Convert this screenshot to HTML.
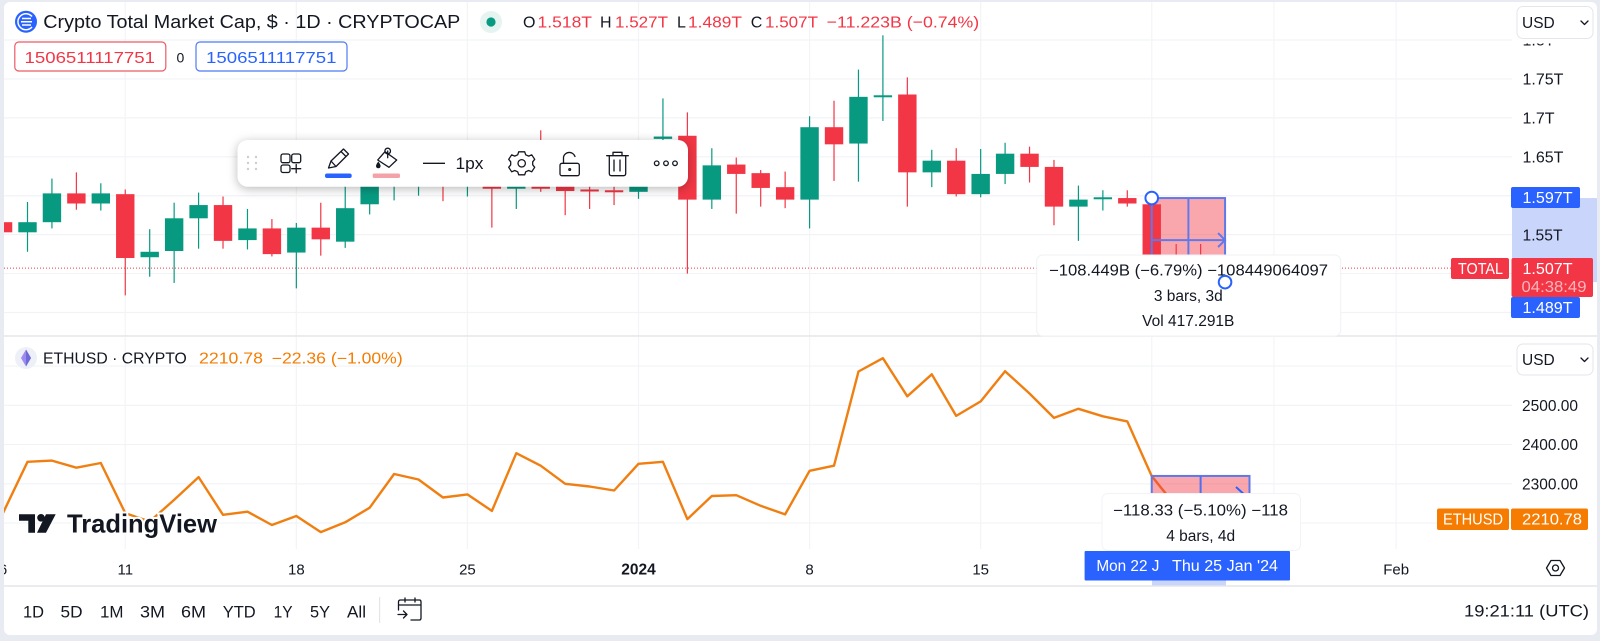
<!DOCTYPE html>
<html lang="en">
<head>
<meta charset="utf-8">
<title>Crypto Total Market Cap and ETHUSD</title>
<style>
html,body{margin:0;padding:0;background:#e9ebf3;width:1600px;height:641px;overflow:hidden}
svg{display:block;font-family:"Liberation Sans",sans-serif}
text{fill:#131722;font-size:15.5px}
.red{fill:#f23645}.org{fill:#f57c00}.wht{fill:#fff}.blu{fill:#2962ff}
.ic{fill:none;stroke:#131722;stroke-width:1.3;stroke-linecap:round;stroke-linejoin:round}
</style>
</head>
<body>
<svg id="chart" xmlns="http://www.w3.org/2000/svg" width="1600" height="641" viewBox="0 0 1600 641">
<defs>
<clipPath id="plot-clip"><rect x="4" y="2" width="1508" height="334"/></clipPath>
<clipPath id="plot2-clip"><rect x="4" y="337" width="1508" height="212"/></clipPath>
<clipPath id="axis-top-clip"><rect x="1512" y="43.500" width="88" height="300"/></clipPath>
<clipPath id="time-clip"><rect x="4" y="552" width="1596" height="34"/></clipPath>
</defs>
<rect x="4" y="2" width="1593" height="633" rx="6" fill="#fff"/>

<g id="grid"></g>
<line id="last-line" x1="4" x2="1451" stroke="#f23645" stroke-width="1" stroke-dasharray="1 2"/>
<g id="candles" clip-path="url(#plot-clip)"></g>

<g>
<rect id="box1" fill="#f23645" fill-opacity=".44" stroke="#5f79ea" stroke-width="2"/>
<line id="box1-mid" stroke="#5f79ea" stroke-width="2"/>
<path id="box1-arrow" fill="none" stroke="#5f79ea" stroke-width="2"/>
</g>

<line x1="4" x2="1597" y1="336" y2="336" stroke="#e3e5ec" stroke-width="1.500"/>

<path id="eth-line" clip-path="url(#plot2-clip)" fill="none" stroke="#f07f12" stroke-width="2.400" stroke-linejoin="round"/>

<g>
<rect id="box2" fill="#f23645" fill-opacity=".44" stroke="#5f79ea" stroke-width="2"/>
<line id="box2-mid" stroke="#4f6ff0" stroke-width="2"/>
<line x1="1236" y1="487" x2="1247" y2="497" stroke="#2962ff" stroke-width="2"/>
</g>

<g>
<path d="M19 514.300H35V532.700H28.300V520.700H19Z" fill="#131722"/>
<circle cx="41" cy="517.800" r="3.800" fill="#131722"/>
<path d="M46 514.300H55.700L46 532.700H37Z" fill="#131722"/>
<text x="67" y="532.500" textLength="150" style="font-size:26px;font-weight:700;paint-order:stroke;stroke:#fff;stroke-width:4px">TradingView</text>
</g>

<g>
<circle cx="26" cy="21.700" r="11" fill="#2962ff"/>
<path d="M32 16.500A8 8 0 1 0 32 27M22 18.500H31M21 21.700H32M22 25H31" fill="none" stroke="#fff" stroke-width="1.500"/>
<text x="43.300" y="28" textLength="417" style="font-size:18.500px">Crypto Total Market Cap, $ · 1D · CRYPTOCAP</text>
<circle cx="491" cy="22" r="11" fill="#e5f4f0"/>
<circle cx="491" cy="22" r="4.600" fill="#089981"/>
<text x="523" y="27.500" style="font-size:16px">O</text>
<text class="red" x="537.500" y="27.500" textLength="54.500" style="font-size:16px">1.518T</text>
<text x="600" y="27.500" style="font-size:16px">H</text>
<text class="red" x="615" y="27.500" textLength="53" style="font-size:16px">1.527T</text>
<text x="677" y="27.500" style="font-size:16px">L</text>
<text class="red" x="688" y="27.500" textLength="54" style="font-size:16px">1.489T</text>
<text x="750.700" y="27.500" style="font-size:16px">C</text>
<text class="red" x="765" y="27.500" textLength="53" style="font-size:16px">1.507T</text>
<text class="red" x="826.700" y="27.500" textLength="152.500" style="font-size:16px">−11.223B (−0.74%)</text>
</g>

<g>
<rect x="14.800" y="42" width="151" height="29" rx="4" fill="#fff" stroke="#ee5a66" stroke-width="1.200"/>
<text class="red" x="24.500" y="63" textLength="130.500" style="font-size:16px">1506511117751</text>
<text x="176.500" y="62.500" style="font-size:14px">0</text>
<rect x="196" y="42" width="151" height="29" rx="4" fill="#fff" stroke="#4d7bf3" stroke-width="1.200"/>
<text class="blu" x="206" y="63" textLength="130.500" style="font-size:16px">1506511117751</text>
</g>

<g>
<circle cx="26" cy="358" r="11" fill="#eef0f8"/>
<path d="M26 349.500L31 358L26 366.500L21 358Z" fill="#9d8bf0"/>
<path d="M26 349.500V366.500L31 358Z" fill="#6f6ad8"/>
<text x="43" y="363.500" textLength="143.800">ETHUSD · CRYPTO</text>
<text class="org" x="199" y="363.500" textLength="64">2210.78</text>
<text class="org" x="271.700" y="363.500" textLength="131">−22.36 (−1.00%)</text>
</g>

<g>
<rect x="237.500" y="140" width="450.500" height="46.700" rx="10" fill="#fff" style="filter:drop-shadow(0 2px 5px rgba(0,0,0,.28))"/>
<g fill="#c9cdd6">
<circle cx="248" cy="157" r="1.200"/><circle cx="256" cy="157" r="1.200"/><circle cx="248" cy="163" r="1.200"/><circle cx="256" cy="163" r="1.200"/><circle cx="248" cy="169" r="1.200"/><circle cx="256" cy="169" r="1.200"/>
</g>
<g class="ic">
<rect x="281" y="154" width="9" height="8.700" rx="2"/><rect x="291.700" y="154" width="9" height="8.700" rx="2"/><rect x="281" y="165" width="9" height="7.500" rx="2"/><path d="M291.700 168.700H300.700M296.200 164.500V172.800"/>
</g>
<g class="ic">
<path d="M328.500 168L331 161L343.500 149L348.500 154L336 166.500ZM341 151.500L346 156.500M331 161L336 166.500"/>
</g>
<rect x="325" y="173.500" width="26.700" height="4.500" rx="2" fill="#2962ff"/>
<g class="ic">
<path d="M377.700 160L385 151.700L396.700 160L389 167.300ZM387.700 151V157.700"/><circle cx="387.700" cy="151" r="2.800"/>
</g>
<path d="M378.300 161.500Q376 164.500 376 166A2.300 2.300 0 0 0 380.600 166Q380.600 164.500 378.300 161.500Z" fill="#131722"/>
<rect x="372.700" y="173.500" width="27.300" height="4.500" rx="1.500" fill="#f4a2a9"/>
<line x1="423" x2="445" y1="163.300" y2="163.300" stroke="#131722" stroke-width="1.400"/>
<text x="455.500" y="169" textLength="28" style="font-size:16.500px">1px</text>
<g class="ic" transform="translate(.7 -.2)">
<path d="M518 152H524L525 155L528 156.300L531 155L534 159.500L532 162L532 165L534 167.500L531 172L528 170.700L525 172L524 175H518L517 172L514 170.700L511 172L508 167.500L510 165L510 162L508 159.500L511 155L514 156.300L517 155Z"/><circle cx="521" cy="163.500" r="3.700"/>
</g>
<g class="ic">
<rect x="560" y="163.300" width="19.300" height="12.400" rx="2"/><path d="M563.500 163.300V157A6 6 0 0 1 575 156.500"/><circle cx="569.700" cy="169.500" r=".9"/>
</g>
<g class="ic">
<path d="M606.700 155.700H628.300M613 155.700V152.300H622V155.700M609.300 155.700V173.500Q609.300 175.700 611.500 175.700H623.500Q625.700 175.700 625.700 173.500V155.700M614 160V171M620 160V171"/>
</g>
<g class="ic">
<circle cx="656.700" cy="163.300" r="2.300"/><circle cx="666" cy="163.300" r="2.300"/><circle cx="675" cy="163.300" r="2.300"/>
</g>
</g>

<g id="axes"></g>

<rect id="y-highlight" x="1512" width="85" fill="#c9d5fb"/>
<text x="1522.500" y="240.500" textLength="40" style="font-size:16px">1.55T</text>

<g>
<rect x="1511" y="187" width="69" height="21" rx="2" fill="#2962ff"/>
<text class="wht" x="1522.500" y="203" textLength="50" style="font-size:16px">1.597T</text>
<rect x="1511" y="297" width="69" height="21" rx="2" fill="#2962ff"/>
<text class="wht" x="1522.500" y="313" textLength="50" style="font-size:16px">1.489T</text>
<rect x="1451" y="258" width="58" height="21" rx="2" fill="#f23645"/>
<text class="wht" x="1458" y="274" textLength="45">TOTAL</text>
<rect x="1511.500" y="258" width="81.500" height="39" rx="2" fill="#f23645"/>
<text class="wht" x="1522.500" y="274" textLength="50" style="font-size:16px">1.507T</text>
<text x="1521.500" y="292" textLength="65" style="fill:#fbb6bb;font-size:16px">04:38:49</text>
<rect x="1437" y="508.500" width="72" height="21.500" rx="2" fill="#f57c00"/>
<text class="wht" x="1443" y="524.500" textLength="60">ETHUSD</text>
<rect x="1511" y="508.500" width="77" height="21.500" rx="2" fill="#f57c00"/>
<text class="wht" x="1522" y="524.500" textLength="60">2210.78</text>
</g>

<g>
<rect x="1036.700" y="255" width="304" height="81" rx="6" fill="#fff" stroke="#eff1f5"/>
<text x="1049" y="275.500" textLength="279">−108.449B (−6.79%) −108449064097</text>
<text x="1188.300" y="301" text-anchor="middle">3 bars, 3d</text>
<text x="1188.300" y="326" text-anchor="middle">Vol 417.291B</text>
</g>
<circle id="handle-a" r="6.300" fill="#fff" stroke="#2962ff" stroke-width="2"/>
<circle id="handle-b" r="6.300" fill="#fff" stroke="#2962ff" stroke-width="2"/>

<g>
<rect x="1102" y="493.500" width="198.500" height="57" rx="6" fill="#fff" stroke="#f1f3f6"/>
<text x="1113" y="515.500" textLength="175">−118.33 (−5.10%) −118</text>
<text x="1200.700" y="541" text-anchor="middle">4 bars, 4d</text>
</g>

<rect x="1152" y="580" width="74" height="6" fill="#c9d5fb"/>
<rect x="1084.600" y="551" width="205.400" height="29.500" rx="1" fill="#2962ff"/>
<text class="wht" x="1096.400" y="571" textLength="63">Mon 22 J</text>
<text class="wht" x="1172" y="571" textLength="106">Thu 25 Jan '24</text>

<g class="ic">
<path d="M1546.500 568L1551 560.500H1560L1564.500 568L1560 575.500H1551Z"/><circle cx="1555.500" cy="568" r="3"/>
</g>

<g>
<rect x="1517" y="6.500" width="76" height="32" rx="6" fill="#fff" stroke="#e4e6ec"/>
<text x="1522" y="28">USD</text>
<path class="ic" d="M1581 21L1584.500 24.500L1588 21"/>
<rect x="1517" y="344" width="76" height="31" rx="6" fill="#fff" stroke="#e4e6ec"/>
<text x="1522" y="365">USD</text>
<path class="ic" d="M1581 358L1584.500 361.500L1588 358"/>
</g>

<line x1="4" x2="1597" y1="586" y2="586" stroke="#e3e5ec" stroke-width="1.500"/>
<g>
<text x="23" y="617.500" textLength="21" style="font-size:16.500px">1D</text>
<text x="60.500" y="617.500" textLength="22" style="font-size:16.500px">5D</text>
<text x="100" y="617.500" textLength="23.500" style="font-size:16.500px">1M</text>
<text x="140" y="617.500" textLength="25" style="font-size:16.500px">3M</text>
<text x="181" y="617.500" textLength="25" style="font-size:16.500px">6M</text>
<text x="222.700" y="617.500" textLength="33" style="font-size:16.500px">YTD</text>
<text x="273.600" y="617.500" textLength="19" style="font-size:16.500px">1Y</text>
<text x="310" y="617.500" textLength="20" style="font-size:16.500px">5Y</text>
<text x="347" y="617.500" textLength="19" style="font-size:16.500px">All</text>
</g>
<line x1="379.600" x2="379.600" y1="597" y2="623" stroke="#e3e5ec" stroke-width="1.200"/>
<g class="ic">
<path d="M398.500 610V602Q398.500 600 400.500 600H419.500Q421 600 421 602V618Q421 620 419.500 620H411M398.500 605H421M405 598V602M415 598V602M398 614.500H407M403.500 611L407 614.500L403.500 618"/>
</g>
<text x="1464" y="616.500" textLength="125" style="font-size:16.500px">19:21:11 (UTC)</text>

<script>
// Chart data
const days = ['Dec 6','Dec 7','Dec 8','Dec 9','Dec 10','Dec 11','Dec 12','Dec 13','Dec 14','Dec 15','Dec 16','Dec 17','Dec 18','Dec 19','Dec 20','Dec 21','Dec 22','Dec 23','Dec 24','Dec 25','Dec 26','Dec 27','Dec 28','Dec 29','Dec 30','Dec 31','Jan 1','Jan 2','Jan 3','Jan 4','Jan 5','Jan 6','Jan 7','Jan 8','Jan 9','Jan 10','Jan 11','Jan 12','Jan 13','Jan 14','Jan 15','Jan 16','Jan 17','Jan 18','Jan 19','Jan 20','Jan 21','Jan 22','Jan 23','Jan 24','Jan 25','Jan 26','Jan 27','Jan 28','Jan 29','Jan 30','Jan 31','Feb 1'];
const opens  = [1.566,1.553,1.566,1.603,1.590,1.602,1.521,1.529,1.571,1.588,1.543,1.558,1.527,1.559,1.541,1.589,1.618,1.620,1.624,1.618,1.624,1.609,1.624,1.618,1.608,1.607,1.605,1.673,1.677,1.595,1.640,1.629,1.611,1.595,1.688,1.667,1.727,1.730,1.630,1.645,1.602,1.628,1.654,1.637,1.586,1.597,1.597,1.589,1.512,1.516];
const highs  = [1.588,1.592,1.622,1.630,1.616,1.608,1.557,1.591,1.604,1.599,1.583,1.570,1.565,1.591,1.624,1.637,1.629,1.632,1.627,1.629,1.637,1.633,1.684,1.629,1.612,1.612,1.624,1.725,1.707,1.661,1.649,1.633,1.631,1.702,1.722,1.762,1.806,1.752,1.659,1.661,1.660,1.668,1.663,1.646,1.613,1.607,1.607,1.597,1.538,1.538];
const lows   = [1.537,1.528,1.558,1.582,1.581,1.472,1.496,1.488,1.532,1.532,1.531,1.522,1.481,1.523,1.533,1.576,1.594,1.600,1.593,1.599,1.559,1.583,1.605,1.575,1.583,1.588,1.596,1.637,1.500,1.583,1.577,1.586,1.584,1.558,1.619,1.618,1.696,1.586,1.611,1.599,1.598,1.615,1.617,1.562,1.542,1.581,1.586,1.505,1.500,1.489];
const closes = [1.553,1.566,1.603,1.590,1.603,1.520,1.528,1.571,1.588,1.542,1.558,1.525,1.559,1.544,1.584,1.624,1.624,1.627,1.618,1.624,1.609,1.620,1.609,1.606,1.606,1.606,1.616,1.676,1.595,1.639,1.628,1.610,1.595,1.688,1.666,1.727,1.729,1.630,1.645,1.602,1.628,1.654,1.637,1.586,1.595,1.598,1.590,1.512,1.505,1.507];
const ethValues = [2226,2356,2359,2341,2353,2225,2204,2259,2317,2221,2229,2195,2218,2177,2202,2239,2325,2311,2265,2273,2231,2378,2346,2300,2293,2283,2351,2356,2210,2269,2271,2244,2222,2333,2346,2586,2620,2523,2579,2473,2510,2587,2530,2468,2491,2472,2459,2320,2242,2228,2211];
const priceGrid = [1.8,1.75,1.7,1.65,1.6,1.55,1.5,1.45];
const priceTicks = ['1.8T','1.75T','1.7T','1.65T'];
const priceTickValues = [1.8,1.75,1.7,1.65];
const ethGrid = [2600,2500,2400,2300,2200];
const ethTicks = [2500,2400,2300];
const dayTickLabels = ['6','11','18','25','2024','8','15','Feb'];
const dayTickDays = ['Dec 6','Dec 11','Dec 18','Dec 25','Jan 1','Jan 8','Jan 15','Feb 1'];
const dayGridDays = ['Dec 11','Dec 18','Dec 25','Jan 1','Jan 8','Jan 15','Jan 22','Jan 27','Feb 1'];
const rangeHigh = 1.597;
const rangeLow = 1.489;
const ethRangeHigh = 2320;
const ethRangeLow = 2202;
const rangeStart = 'Jan 22';
const rangeEnd = 'Jan 25';
const ethRangeEnd = 'Jan 26';

// Axis functions
const xDay = function (label) { return 638.5 + 24.44 * (days.indexOf(label) - 26); };
const xIdx = function (i) { return 638.5 + 24.44 * (i - 26); };
const yPrice = function (p) { return 40 + (1.8 - p) * 778.6; };
const yEth = function (p) { return 405.3 + (2500 - p) * 0.3925; };

const NS = 'http://www.w3.org/2000/svg';
function mk(tag, parent, attrs) {
  const el = document.createElementNS(NS, tag);
  for (const k in attrs) el.setAttribute(k, attrs[k]);
  parent.appendChild(el);
  return el;
}

const grid = document.getElementById('grid');
priceGrid.forEach(function (p) {
  const l = mk('line', grid, {x1: 4, x2: 1512, y1: yPrice(p), y2: yPrice(p), stroke: '#f1f3f7', 'stroke-width': 1.2});
  
  
});
ethGrid.forEach(function (p) {
  const l = mk('line', grid, {x1: 4, x2: 1512, y1: yEth(p), y2: yEth(p), stroke: '#f1f3f7', 'stroke-width': 1.2});
  
  
});
dayGridDays.forEach(function (d) {
  const a = mk('line', grid, {x1: xDay(d), x2: xDay(d), y1: 2, y2: 336, stroke: '#f3f4f8', 'stroke-width': 1.2});
  
  
  const b = mk('line', grid, {x1: xDay(d), x2: xDay(d), y1: 337, y2: 549, stroke: '#f3f4f8', 'stroke-width': 1.2});
  
  
});

const lastClose = closes[closes.length - 1];
const lastLine = document.getElementById('last-line');
lastLine.setAttribute('y1', yPrice(lastClose));
lastLine.setAttribute('y2', yPrice(lastClose));

const candles = document.getElementById('candles');
closes.forEach(function (c, i) {
  const o = opens[i];
  const col = c >= o ? '#089981' : '#f23645';
  const x = xIdx(i);
  const wick = mk('line', candles, {x1: x, x2: x, y1: yPrice(highs[i]), y2: yPrice(lows[i]), stroke: col, 'stroke-width': 1.2});
  
  
  const top = yPrice(Math.max(o, c));
  const h = Math.max(Math.abs(yPrice(o) - yPrice(c)), 2);
  const body = mk('rect', candles, {x: x - 9.2, y: top, width: 18.4, height: h, fill: col});
  
  
});

document.getElementById('eth-line').setAttribute('d', ethValues.map(function (v, i) {
  return (i ? 'L' : 'M') + xIdx(i).toFixed(1) + ' ' + yEth(v).toFixed(1);
}).join(''));

// Measure boxes
const bx0 = xDay(rangeStart), bx1 = xDay(rangeEnd);
const by0 = yPrice(rangeHigh), by1 = yPrice(rangeLow);
const box1 = document.getElementById('box1');
box1.setAttribute('x', bx0);
box1.setAttribute('y', by0);
box1.setAttribute('width', bx1 - bx0);
box1.setAttribute('height', by1 - by0);
const midX = (bx0 + bx1) / 2;
const mid1 = document.getElementById('box1-mid');
mid1.setAttribute('x1', midX);
mid1.setAttribute('x2', midX);
mid1.setAttribute('y1', by0);
mid1.setAttribute('y2', by1);
const arrowY = (by0 + by1) / 2;
document.getElementById('box1-arrow').setAttribute('d', 'M' + bx0 + ' ' + arrowY + 'H' + bx1 + 'M' + (bx1 - 7) + ' ' + (arrowY - 7) + 'L' + bx1 + ' ' + arrowY + 'L' + (bx1 - 7) + ' ' + (arrowY + 7));
const ha = document.getElementById('handle-a');
ha.setAttribute('cx', bx0);
ha.setAttribute('cy', by0);
const hb = document.getElementById('handle-b');
hb.setAttribute('cx', bx1);
hb.setAttribute('cy', by1);
const hl = document.getElementById('y-highlight');
hl.setAttribute('y', by0);
hl.setAttribute('height', by1 - by0);

const ex1 = xDay(ethRangeEnd);
const ey0 = yEth(ethRangeHigh), ey1 = yEth(ethRangeLow);
const box2 = document.getElementById('box2');
box2.setAttribute('x', bx0);
box2.setAttribute('y', ey0);
box2.setAttribute('width', ex1 - bx0);
box2.setAttribute('height', ey1 - ey0);
const mid2 = document.getElementById('box2-mid');
mid2.setAttribute('x1', (bx0 + ex1) / 2);
mid2.setAttribute('x2', (bx0 + ex1) / 2);
mid2.setAttribute('y1', ey0);
mid2.setAttribute('y2', ey1);

// Axis labels
const axes = document.getElementById('axes');
priceTicks.forEach(function (t, i) {
  const el = mk('text', axes, {x: 1522.5, y: yPrice(priceTickValues[i]) + 5.5, 'clip-path': 'url(#axis-top-clip)', style: 'font-size:16px'});
  
  
  el.textContent = t;
});
ethTicks.forEach(function (t) {
  const el = mk('text', axes, {x: 1522, y: yEth(t) + 5.5, style: 'font-size:15.5px'});
  
  
  el.textContent = t.toFixed(2);
});
dayTickLabels.forEach(function (t, i) {
  const el = mk('text', axes, {x: xDay(dayTickDays[i]), y: 574.5, 'text-anchor': 'middle', 'clip-path': 'url(#time-clip)', style: t === '2024' ? 'font-size:15.5px;font-weight:700' : 'font-size:15px'});
  
  
  el.textContent = t;
});

// Fitted labels scale glyphs, not letter gaps
document.querySelectorAll('text').forEach(function (t) {
  if (t.hasAttribute('textLength')) t.setAttribute('lengthAdjust', 'spacingAndGlyphs');
});
</script>
</svg>
</body>
</html>
